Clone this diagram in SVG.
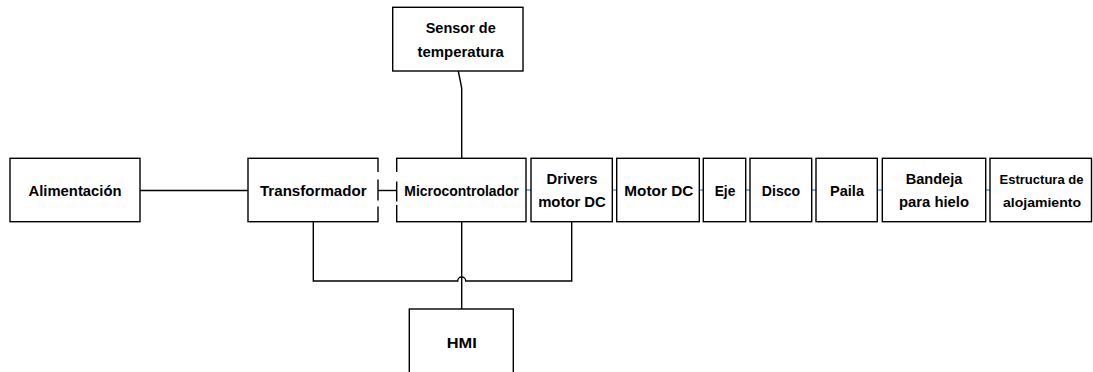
<svg xmlns="http://www.w3.org/2000/svg" width="1093" height="372" viewBox="0 0 1093 372">
<style>
.box{fill:#fff;stroke:#000;stroke-width:1.4}
.edge{fill:none;stroke:#000;stroke-width:1.4}
.blue{fill:none;stroke:#5B9BD5;stroke-width:1.6}
.wgap{stroke:#fff;stroke-width:3}
text{font-family:"Liberation Sans",Arial,sans-serif;font-weight:bold;font-size:15px;text-anchor:middle;fill:#000}
text.sm{font-size:13px}
</style>
<rect width="1093" height="372" fill="#fff"/>
<g id="connectors">
<path class="edge" d="M140,190.5 H248"/>
<path class="edge" d="M378,190.5 H396.7"/>
<path class="edge" d="M458.3,71 L461.7,88 V158.3"/>
<path class="edge" d="M313.3,221.7 V281 H457.7 A4,4 0 0 1 465.7,281 H571.7 V221.7"/>
<path class="edge" d="M461.7,221.7 V309"/>
<path class="blue" d="M526,190 H531 M612.3,190 H616.7 M699.3,190 H703.3 M745.7,190 H750 M811.7,190 H816 M877.3,190 H882.3 M985.7,190 H990"/>
</g>
<g id="n_alim"><rect class="box" x="10" y="158.3" width="130" height="63.4"/><text x="75" y="196" textLength="93" lengthAdjust="spacingAndGlyphs">Alimentación</text></g>
<g id="n_trans"><rect class="box" x="248" y="158.3" width="130" height="63.4"/><path class="wgap" d="M378,172 V179.5 M378,200.5 V206.5"/><text x="313.3" y="196" textLength="106.7" lengthAdjust="spacingAndGlyphs">Transformador</text></g>
<g id="n_micro"><rect class="box" x="396.7" y="158.3" width="129.3" height="63.4"/><path class="wgap" d="M396.7,172 V181.5 M396.7,201.5 V205"/><text x="461.7" y="196" textLength="114.7" lengthAdjust="spacingAndGlyphs">Microcontrolador</text></g>
<g id="n_drivers"><rect class="box" x="531" y="158.3" width="81.3" height="63.4"/><text x="572" y="184" textLength="51" lengthAdjust="spacingAndGlyphs">Drivers</text><text x="572" y="207" textLength="67.7" lengthAdjust="spacingAndGlyphs">motor DC</text></g>
<g id="n_motor"><rect class="box" x="616.7" y="158.3" width="82.6" height="63.4"/><text x="658.8" y="196" textLength="69" lengthAdjust="spacingAndGlyphs">Motor DC</text></g>
<g id="n_eje"><rect class="box" x="703.3" y="158.3" width="42.4" height="63.4"/><text x="725" y="196" textLength="20.7" lengthAdjust="spacingAndGlyphs">Eje</text></g>
<g id="n_disco"><rect class="box" x="750" y="158.3" width="61.7" height="63.4"/><text x="781" y="196" textLength="38.3" lengthAdjust="spacingAndGlyphs">Disco</text></g>
<g id="n_paila"><rect class="box" x="816" y="158.3" width="61.3" height="63.4"/><text x="847" y="196" textLength="34" lengthAdjust="spacingAndGlyphs">Paila</text></g>
<g id="n_bandeja"><rect class="box" x="882.3" y="158.3" width="103.4" height="63.4"/><text x="934" y="184" textLength="56.7" lengthAdjust="spacingAndGlyphs">Bandeja</text><text x="934" y="207" textLength="70" lengthAdjust="spacingAndGlyphs">para hielo</text></g>
<g id="n_estructura"><rect class="box" x="990" y="158.3" width="101.5" height="63.4"/><text class="sm" x="1041.5" y="184" textLength="84" lengthAdjust="spacingAndGlyphs">Estructura de</text><text class="sm" x="1042" y="207" textLength="78" lengthAdjust="spacingAndGlyphs">alojamiento</text></g>
<g id="n_sensor"><rect class="box" x="392.7" y="7.3" width="130.3" height="63.7"/><text x="460.7" y="33" textLength="70" lengthAdjust="spacingAndGlyphs">Sensor de</text><text x="460.7" y="57" textLength="86.3" lengthAdjust="spacingAndGlyphs">temperatura</text></g>
<g id="n_hmi"><rect class="box" x="409.3" y="309" width="104" height="70"/><text x="461.7" y="348" textLength="30" lengthAdjust="spacingAndGlyphs">HMI</text></g>
</svg>
